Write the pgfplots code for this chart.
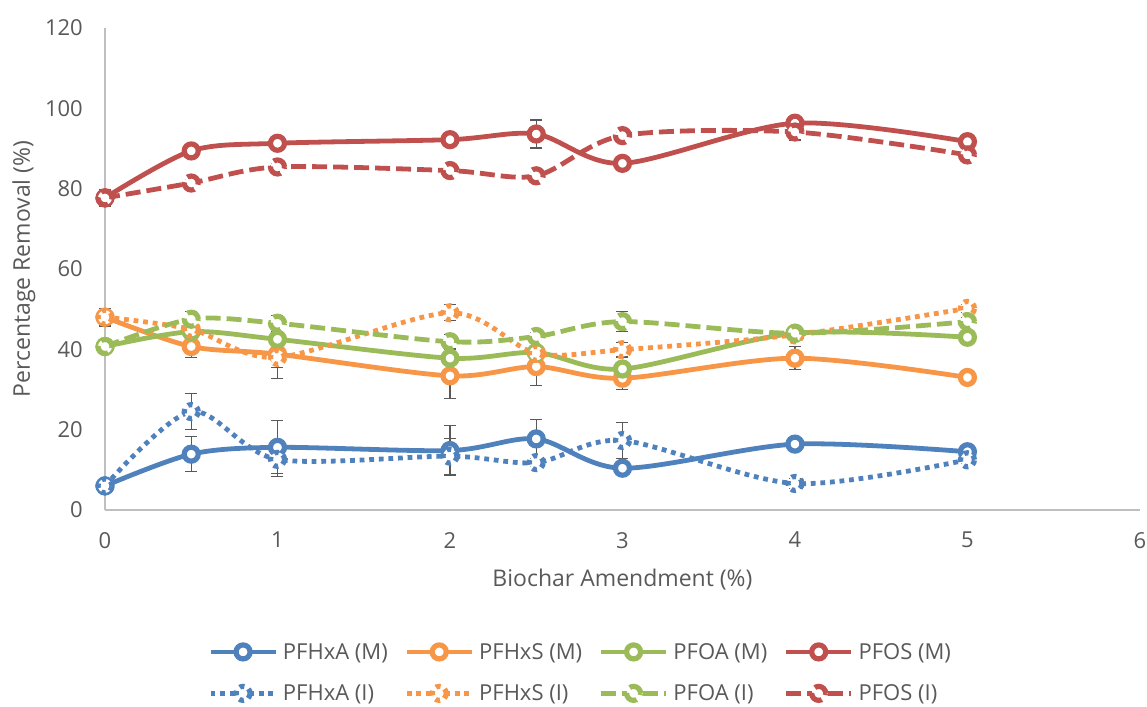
\documentclass[border=0pt]{standalone}
\usepackage{pgfplots}
\pgfplotsset{compat=1.18}
\usepackage{fontspec}
\setmainfont{Open Sans}

\definecolor{cBlue}{HTML}{4F81BD}
\definecolor{cOrange}{HTML}{F79646}
\definecolor{cGreen}{HTML}{9BBB59}
\definecolor{cRed}{HTML}{C0504D}
\definecolor{txt}{HTML}{595959}
\definecolor{axl}{HTML}{BFBFBF}
\definecolor{errc}{HTML}{595959}

\newcommand{\lblfont}{\fontsize{22}{26}\selectfont}
\newcommand{\axfont}{\fontsize{23}{27}\selectfont}

\pgfplotsset{
  base/.style={smooth, line width=4.8pt, mark=*, mark size=7pt,
    mark options={fill=white, line width=5.2pt},
    error bars/y dir=both, error bars/y explicit},
  Mline/.style={base, color=#1, solid},
  Idot/.style={base, color=#1, dash pattern=on 4.8pt off 4.8pt},
  Idash/.style={base, color=#1, dash pattern=on 15pt off 6pt},
}

\begin{document}
\begin{tikzpicture}
\useasboundingbox (0,0) rectangle (1147pt,706pt);
\begin{axis}[
  at={(105pt,196pt)}, anchor=south west,
  scale only axis, width=1035pt, height=482pt,
  xmin=0, xmax=6, ymin=0, ymax=120,
  xtick={0,1,...,6}, ytick={0,20,...,120},
  axis x line=bottom, axis y line=left,
  axis line style={-, draw=axl, line width=1.5pt},
  major tick length=0pt,
  clip=false,
  /pgf/number format/assume math mode=true,
  tick label style={font=\lblfont, text=txt, inner sep=0pt},
  yticklabel style={anchor=east, xshift=-22pt},
  xticklabel style={anchor=north, yshift=-22pt},
  xlabel={Biochar Amendment (\%)},
  ylabel={Percentage Removal (\%)},
  label style={font=\axfont, text=txt},
  xlabel style={at={(axis description cs:0.5,-0.1452)}, anchor=center},
  ylabel style={at={(axis description cs:-0.0783,0.5)}, anchor=center},
  error bars/error bar style={solid, line width=1.2pt, color=errc},
  error bars/error mark options={solid, rotate=90, mark size=6pt, line width=1.2pt, color=errc},
  legend columns=4,
  legend style={at={(axis description cs:0.0966,-0.2614)}, anchor=north west,
    draw=none, fill=none, font=\lblfont, text=txt,
    column sep=0pt, row sep=14pt,
    nodes={inner sep=5pt, anchor=west},
    /tikz/every even column/.append style={column sep=11.5pt}},
  legend image code/.code={%
    \draw[mark repeat=2, mark phase=2] plot coordinates {(0pt,0pt) (32.5pt,0pt) (65pt,0pt)};},
]
% measured removal, solid lines
\addplot[Mline=cBlue] coordinates {
  (0,6.0) +- (0,0.5) (0.5,13.9) +- (0,4.4) (1,15.6) +- (0,6.6) (2,14.8) +- (0,6.2)
  (2.5,17.7) +- (0,4.9) (3,10.4) +- (0,1.2) (4,16.4) +- (0,1.5) (5,14.5) +- (0,0.8)};
\addlegendentry{PFHxA (M)}
\addplot[Mline=cOrange] coordinates {
  (0,48.0) +- (0,2.2) (0.5,40.7) +- (0,2.7) (1,38.8) +- (0,3.4) (2,33.4) +- (0,5.6)
  (2.5,35.7) +- (0,4.8) (3,32.8) +- (0,2.9) (4,37.8) +- (0,2.9) (5,33.0) +- (0,0.8)};
\addlegendentry{PFHxS (M)}
\addplot[Mline=cGreen] coordinates {
  (0,40.7) +- (0,1.5) (0.5,44.4) +- (0,1.0) (1,42.5) +- (0,1.0) (2,37.8) +- (0,1.0)
  (2.5,39.2) +- (0,1.0) (3,35.1) +- (0,1.0) (4,44.0) +- (0,1.0) (5,43.0) +- (0,1.0)};
\addlegendentry{PFOA (M)}
\addplot[Mline=cRed] coordinates {
  (0,77.7) +- (0,2.0) (0.5,89.4) +- (0,0.8) (1,91.3) +- (0,0.8) (2,92.2) +- (0,0.8)
  (2.5,93.6) +- (0,3.5) (3,86.3) +- (0,0.8) (4,96.3) +- (0,1.0) (5,91.7) +- (0,0.8)};
\addlegendentry{PFOS (M)}
% second set, dotted and dashed lines
\addplot[Idot=cBlue] coordinates {
  (0,6.0) +- (0,0.5) (0.5,24.5) +- (0,4.5) (1,12.6) +- (0,4.3) (2,13.4) +- (0,4.5)
  (2.5,11.8) +- (0,1.0) (3,17.3) +- (0,4.4) (4,6.6) +- (0,1.2) (5,12.5) +- (0,0.8)};
\addlegendentry{PFHxA (I)}
\addplot[Idot=cOrange] coordinates {
  (0,48.0) +- (0,2.2) (0.5,45.0) +- (0,1.0) (1,38.0) +- (0,5.3) (2,49.1) +- (0,2.0)
  (2.5,39.0) +- (0,1.2) (3,39.9) +- (0,1.8) (4,43.6) +- (0,1.5) (5,50.2) +- (0,1.0)};
\addlegendentry{PFHxS (I)}
\addplot[Idash=cGreen] coordinates {
  (0,40.7) +- (0,1.0) (0.5,47.5) +- (0,2.0) (1,46.5) +- (0,2.0) (2,41.9) +- (0,1.8)
  (2.5,43.2) +- (0,1.0) (3,46.9) +- (0,2.5) (4,44.0) +- (0,1.0) (5,46.9) +- (0,1.0)};
\addlegendentry{PFOA (I)}
\addplot[Idash=cRed] coordinates {
  (0,77.7) +- (0,1.0) (0.5,81.4) +- (0,0.8) (1,85.4) +- (0,0.8) (2,84.5) +- (0,0.8)
  (2.5,83.2) +- (0,0.8) (3,93.2) +- (0,0.8) (4,94.1) +- (0,2.0) (5,88.4) +- (0,0.8)};
\addlegendentry{PFOS (I)}
\end{axis}
\end{tikzpicture}
\end{document}
